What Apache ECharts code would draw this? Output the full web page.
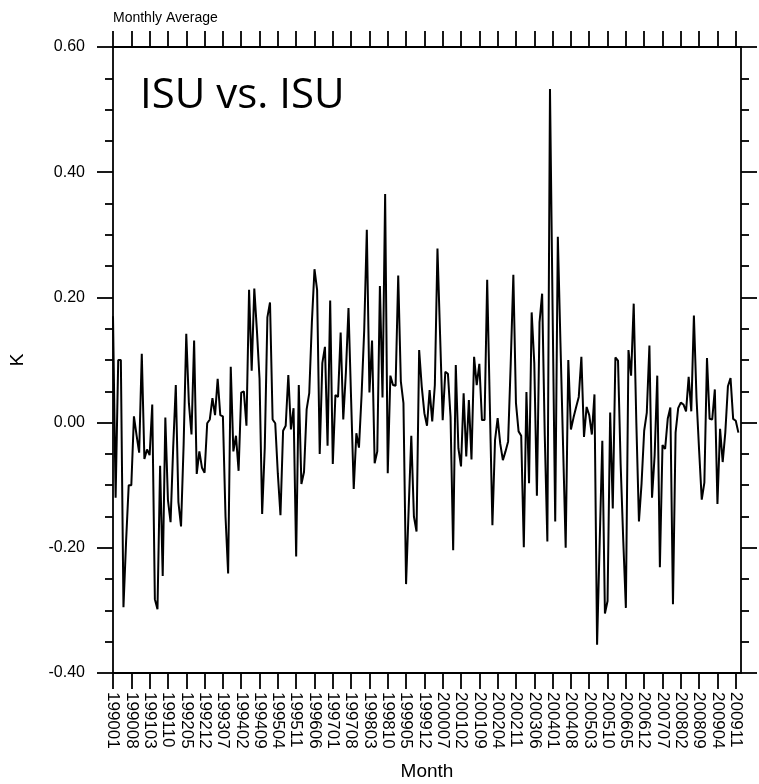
<!DOCTYPE html>
<html>
<head>
<meta charset="utf-8">
<title>ISU vs. ISU — Monthly Average</title>
<script src="https://cdn.jsdelivr.net/npm/echarts@6/dist/echarts.min.js"></script>
<style>
  html, body { margin: 0; padding: 0; background: #ffffff; }
  #chart { width: 759px; height: 784px; }
</style>
</head>
<body>
<div id="chart"></div>
<script>
// Month axis: January 1990 onward, one category per month (runs one past the data so the frame closes just after Dec 2009)
const startYear = 1990;
const monthCount = 241;
const months = [];
for (let k = 0; k < monthCount; k++) {
  const y = startYear + Math.floor(k / 12);
  const m = (k % 12) + 1;
  months.push(String(y) + (m < 10 ? '0' + m : String(m)));
}

// Monthly mean difference (K), 1990-01 .. 2009-12
const kValues = [
  0.17, -0.12, 0.10, 0.10, -0.295, -0.19, -0.10, -0.10, 0.01, -0.02,
  -0.048, 0.11, -0.058, -0.043, -0.052, 0.029, -0.282, -0.298, -0.069, -0.245,
  0.008, -0.124, -0.159, -0.04, 0.06, -0.127, -0.166, -0.034, 0.142, 0.031,
  -0.019, 0.131, -0.082, -0.046, -0.072, -0.08, -0.001, 0.005, 0.039, 0.012,
  0.07, 0.012, 0.010, -0.150, -0.241, 0.089, -0.046, -0.021, -0.077, 0.048,
  0.05, -0.005, 0.212, 0.083, 0.214, 0.147, 0.07, -0.146, -0.04, 0.168,
  0.192, 0.005, -0.001, -0.082, -0.148, -0.013, -0.005, 0.076, -0.011, 0.023,
  -0.214, 0.06, -0.098, -0.079, 0.021, 0.047, 0.16, 0.245, 0.212, -0.05,
  0.095, 0.121, -0.037, 0.195, -0.066, 0.044, 0.041, 0.144, 0.005, 0.08,
  0.183, 0.037, -0.106, -0.017, -0.04, 0.044, 0.147, 0.308, 0.048, 0.131,
  -0.065, -0.046, 0.218, 0.04, 0.365, -0.081, 0.075, 0.06, 0.059, 0.235,
  0.066, 0.031, -0.258, -0.137, -0.021, -0.15, -0.174, 0.116, 0.057, 0.015,
  -0.005, 0.052, 0.002, 0.06, 0.278, 0.14, 0.004, 0.081, 0.078, 0.009,
  -0.204, 0.092, -0.041, -0.07, 0.047, -0.054, 0.036, -0.059, 0.105, 0.06,
  0.094, 0.004, 0.004, 0.228, 0.03, -0.164, -0.028, 0.007, -0.034, -0.06,
  -0.046, -0.03, 0.095, 0.236, 0.031, -0.014, -0.021, -0.199, 0.049, -0.097,
  0.176, 0.095, -0.117, 0.16, 0.206, -0.02, -0.19, 0.533, 0.18, -0.158,
  0.297, 0.127, -0.037, -0.2, 0.1, -0.011, 0.008, 0.025, 0.041, 0.105,
  -0.023, 0.025, 0.012, -0.019, 0.045, -0.355, -0.19, -0.029, -0.305, -0.285,
  0.016, -0.137, 0.104, 0.099, -0.066, -0.188, -0.296, 0.116, 0.075, 0.19,
  0.0, -0.158, -0.097, -0.013, 0.016, 0.123, -0.12, -0.052, 0.075, -0.231,
  -0.036, -0.042, 0.006, 0.024, -0.29, -0.016, 0.023, 0.032, 0.029, 0.018,
  0.073, 0.018, 0.171, 0.039, -0.045, -0.123, -0.096, 0.103, 0.006, 0.005,
  0.053, -0.13, -0.01, -0.063, -0.016, 0.058, 0.071, 0.006, 0.003, -0.016
];

// Y range and tick spacing (K)
const yMin = -0.4;
const yMax = 0.6;
const yStep = 0.2;
const monthStep = 7;

const axisFont = '"Liberation Sans", Arial, Helvetica, sans-serif';
const frameLine = { color: '#000', width: 1.8 };

const chart = echarts.init(document.getElementById('chart'), null, { renderer: 'canvas' });

const xAxisBase = {
  type: 'category',
  data: months,
  boundaryGap: false,
  axisLine: { show: true, onZero: false, lineStyle: frameLine },
  axisTick: { show: true, interval: monthStep - 1, length: 16, lineStyle: frameLine },
  splitLine: { show: false }
};

const yAxisBase = {
  type: 'value',
  min: yMin,
  max: yMax,
  interval: yStep,
  axisLine: { show: true, onZero: false, lineStyle: frameLine },
  axisTick: { show: true, length: 16, lineStyle: frameLine },
  minorTick: { show: true, splitNumber: 4, length: 8, lineStyle: frameLine },
  splitLine: { show: false },
  minorSplitLine: { show: false }
};

chart.setOption({
  animation: false,
  backgroundColor: '#ffffff',
  grid: {
    left: 113, right: 18, top: 47, bottom: 111,
    containLabel: false,
    outerBoundsMode: 'none'
  },
  xAxis: [
    Object.assign({}, xAxisBase, {
      position: 'bottom',
      name: 'Month',
      nameLocation: 'middle',
      nameGap: 89,
      nameTextStyle: { fontFamily: axisFont, fontSize: 19, color: '#000' },
      axisLabel: {
        show: true,
        interval: monthStep - 1,
        rotate: -90,
        margin: 19,
        fontFamily: axisFont,
        fontSize: 17,
        color: '#000'
      }
    }),
    Object.assign({}, xAxisBase, {
      position: 'top',
      axisLabel: { show: false }
    })
  ],
  yAxis: [
    Object.assign({}, yAxisBase, {
      position: 'left',
      name: 'K',
      nameLocation: 'middle',
      nameGap: 86,
      nameTextStyle: { fontFamily: axisFont, fontSize: 19, color: '#000' },
      axisLabel: {
        show: true,
        margin: 28,
        fontFamily: axisFont,
        fontSize: 16,
        color: '#000',
        formatter: function (v) { return v.toFixed(2); }
      }
    }),
    Object.assign({}, yAxisBase, {
      position: 'right',
      axisLabel: { show: false }
    })
  ],
  graphic: [
    {
      type: 'text',
      left: 113,
      top: 11,
      style: {
        text: 'Monthly Average',
        font: '14px "Liberation Sans", Arial, sans-serif',
        fill: '#000'
      }
    },
    {
      type: 'text',
      left: 140,
      top: 75,
      style: {
        text: 'ISU vs. ISU',
        font: '42px "Open Sans", "Noto Sans", sans-serif',
        fill: '#000'
      }
    }
  ],
  series: [
    {
      type: 'line',
      xAxisIndex: 0,
      yAxisIndex: 0,
      data: kValues,
      showSymbol: false,
      symbol: 'none',
      lineStyle: { color: '#000', width: 2 },
      silent: true
    }
  ]
});
</script>
</body>
</html>
